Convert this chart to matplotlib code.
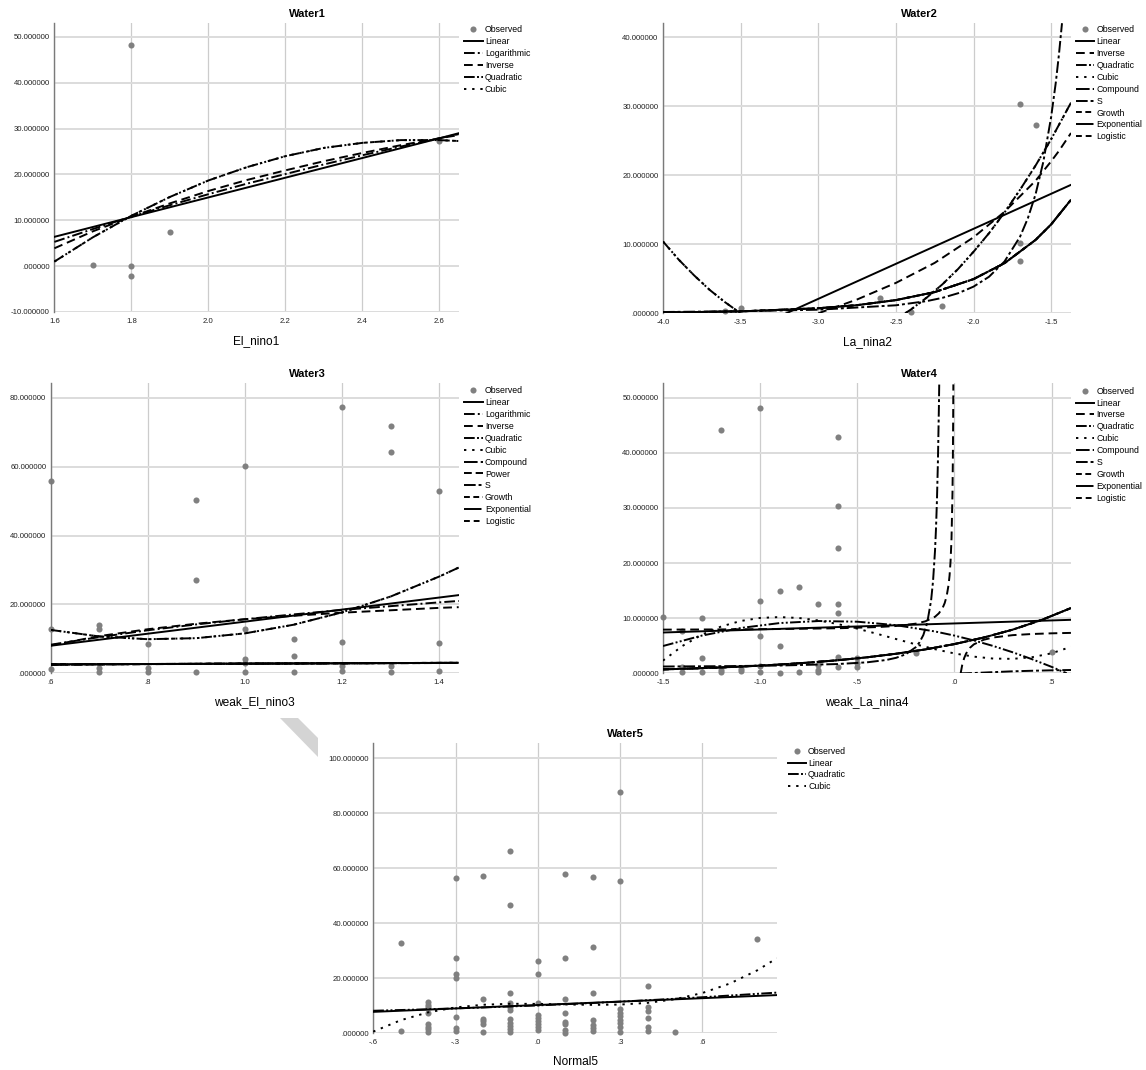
import numpy as np
import matplotlib
matplotlib.use('Agg')
import matplotlib.pyplot as plt
from matplotlib.lines import Line2D
from matplotlib.patches import Polygon

plt.rcParams['font.family'] = ['Liberation Sans', 'DejaVu Sans']

nan = np.nan

# ---- Water1 by El_nino1 ----
w1_obs_x = [1.7, 1.8, 1.8, 1.8, 1.9, 2.6]
w1_obs_y = [0.3, 48.2, 0.0, -2.1, 7.4, 27.4]
w1_fit_x = [1.6, 1.7, 1.8, 1.9, 2.0, 2.1, 2.2, 2.3, 2.4, 2.5, 2.6, 2.65]
w1_linear = [6.4, 8.55, 10.7, 12.85, 15.0, 17.15, 19.3, 21.45, 23.6, 25.75, 27.9, 29.0]
w1_log = [5.3, 8.1, 10.8, 13.3, 15.7, 18.0, 20.1, 22.2, 24.2, 26.1, 27.9, 28.8]
w1_inverse = [3.9, 7.6, 10.8, 13.7, 16.4, 18.8, 20.9, 22.9, 24.7, 26.4, 27.9, 28.6]
w1_quadratic = [1.0, 6.3, 11.0, 15.1, 18.7, 21.6, 24.0, 25.8, 26.9, 27.5, 27.5, 27.3]
w1_cubic = [1.0, 6.3, 11.0, 15.1, 18.7, 21.6, 24.0, 25.8, 26.9, 27.5, 27.5, 27.3]

# ---- Water2 by La_nina2 ----
w2_obs_x = [-3.6, -3.5, -2.6, -2.4, -2.2, -1.7, -1.7, -1.7, -1.6]
w2_obs_y = [0.3, 0.7, 2.2, 0.2, 1.0, 30.3, 10.2, 7.5, 27.3]
w2_linear_x = [-3.206, -1.372]
w2_linear = [0.0, 18.6]
w2_inverse_x = [-3.0, -2.75, -2.5, -2.25, -2.0, -1.8, -1.6, -1.5, -1.45, -1.372]
w2_inverse = [0.0, 2.0, 4.4, 7.3, 11.0, 14.7, 19.2, 22.0, 23.5, 26.1]
w2_quad_x = [-4.0, -3.9, -3.8, -3.7, -3.6, -3.5, nan, -2.44, -2.4, -2.3, -2.2,
             -2.1, -2.0, -1.9, -1.8, -1.7, -1.6, -1.5, -1.372]
w2_quadratic = [10.4, 7.8, 5.5, 3.4, 1.6, 0.0, nan, 0.0, 0.6, 2.3, 4.2,
                6.4, 8.9, 11.6, 14.6, 17.9, 21.4, 25.2, 30.5]
w2_cubic = [10.4, 7.8, 5.5, 3.4, 1.6, 0.0, nan, 0.0, 0.6, 2.3, 4.2,
            6.4, 8.9, 11.6, 14.6, 17.9, 21.4, 25.2, 30.5]
w2_exp_x = [-4.0, -3.5, -3.0, -2.75, -2.5, -2.25, -2.0, -1.8, -1.6, -1.5, -1.372]
w2_exp = [0.11, 0.28, 0.73, 1.18, 1.91, 3.07, 4.95, 7.26, 10.63, 12.87, 16.44]
w2_s_x = [-4.0, -3.5, -3.0, -2.5, -2.3, -2.2, -2.1, -2.0, -1.9, -1.8, -1.7,
          -1.65, -1.6, -1.55, -1.5, -1.47, -1.45, -1.43]
w2_s = [0.19, 0.30, 0.52, 1.16, 1.77, 2.24, 2.90, 3.86, 5.29, 7.51, 11.10,
        13.75, 17.25, 21.96, 28.41, 33.4, 37.4, 42.0]

# ---- Water3 by weak_El_nino3 ----
w3_obs_x = [0.6, 0.6, 0.6, 0.7, 0.7, 0.7, 0.7, 0.8, 0.8, 0.8, 0.9, 0.9, 0.9,
            1.0, 1.0, 1.0, 1.0, 1.0, 1.1, 1.1, 1.1, 1.2, 1.2, 1.2, 1.2,
            1.3, 1.3, 1.3, 1.3, 1.4, 1.4, 1.4]
w3_obs_y = [55.9, 13.0, 1.2, 14.0, 12.8, 1.5, 0.4, 8.5, 1.4, 0.5, 50.4, 27.0, 0.3,
            60.3, 12.8, 4.1, 3.0, 0.3, 9.9, 5.0, 0.5, 77.2, 9.2, 2.0, 0.7,
            71.9, 64.2, 2.1, 0.3, 53.0, 8.7, 0.6]
w3_fit_x = [0.6, 0.7, 0.8, 0.9, 1.0, 1.1, 1.2, 1.3, 1.4, 1.44]
w3_linear_x = [0.6, 1.44]
w3_linear = [8.0, 22.7]
w3_log = [8.3, 10.5, 12.5, 14.2, 15.7, 17.1, 18.4, 19.5, 20.6, 21.0]
w3_inverse = [8.1, 10.8, 12.8, 14.4, 15.7, 16.7, 17.6, 18.3, 19.0, 19.2]
w3_quadratic = [12.6, 10.7, 9.9, 10.2, 11.6, 14.1, 17.7, 22.3, 28.1, 30.7]
w3_cubic = [12.6, 10.7, 9.9, 10.2, 11.6, 14.1, 17.7, 22.3, 28.1, 30.7]
w3_exp = [2.6, 2.65, 2.7, 2.75, 2.81, 2.86, 2.92, 2.97, 3.03, 3.05]
w3_power = [2.5, 2.58, 2.65, 2.72, 2.78, 2.84, 2.89, 2.93, 2.98, 3.0]
w3_s = [2.45, 2.57, 2.67, 2.75, 2.82, 2.87, 2.91, 2.95, 2.99, 3.0]

# ---- Water4 by weak_La_nina4 ----
w4_obs_x = [-1.5, -1.4, -1.4, -1.4, -1.3, -1.3, -1.3, -1.2, -1.2, -1.2, -1.1, -1.1,
            -1.0, -1.0, -1.0, -1.0, -1.0, -0.9, -0.9, -0.9, -0.8, -0.8,
            -0.7, -0.7, -0.7, -0.7, -0.6, -0.6, -0.6, -0.6, -0.6, -0.6, -0.6,
            -0.5, -0.5, -0.5, -0.2, 0.5]
w4_obs_y = [10.2, 7.6, 1.1, 0.3, 10.0, 2.7, 0.2, 44.2, 0.6, 0.2, 0.7, 0.4,
            48.1, 13.1, 6.7, 1.3, 0.2, 15.0, 5.0, 0.1, 15.6, 0.3,
            12.5, 1.5, 0.6, 0.2, 42.8, 30.4, 22.7, 12.5, 10.9, 2.9, 1.1,
            2.7, 1.8, 1.1, 3.6, 3.9]
w4_linear_x = [-1.5, 0.6]
w4_linear = [7.4, 9.7]
w4_inverse_x = [-1.5, -1.2, -0.9, -0.6, -0.4, -0.3, -0.2, -0.15, -0.1, -0.08, -0.06,
                -0.05, -0.04, -0.03, -0.025, -0.02, -0.015, -0.01, -0.008, -0.0065,
                -0.0056, nan, 0.032, 0.04, 0.05, 0.06, 0.08, 0.1, 0.15, 0.2, 0.3,
                0.4, 0.5, 0.6]
w4_inverse = [7.92, 7.96, 8.03, 8.17, 8.38, 8.58, 9.0, 9.42, 10.25, 10.88, 11.92,
              12.75, 14.0, 16.08, 17.75, 20.25, 24.42, 32.75, 39.0, 46.2,
              52.4, nan, 0.0, 1.5, 2.75, 3.58, 4.63, 5.25, 6.08, 6.5, 6.92,
              7.13, 7.25, 7.33]
w4_quad_x = [-1.5, -1.3, -1.1, -0.9, -0.7, -0.5, -0.3, -0.1, 0.0, 0.1, 0.2, 0.3,
             0.4, 0.5, 0.578]
w4_quadratic = [4.95, 6.84, 8.22, 9.11, 9.48, 9.36, 8.73, 7.59, 6.84, 5.96, 4.95, 3.81,
                2.55, 1.17, 0.0]
w4_cubic_x = [-1.5, -1.4, -1.3, -1.2, -1.1, -1.0, -0.9, -0.8, -0.7, -0.6, -0.5,
              -0.4, -0.3, -0.2, -0.1, 0.0, 0.1, 0.2, 0.3, 0.4, 0.5, 0.6]
w4_cubic = [2.30, 4.96, 7.01, 8.50, 9.49, 10.04, 10.20, 10.03, 9.59, 8.93, 8.10,
            7.18, 6.21, 5.26, 4.37, 3.60, 3.02, 2.67, 2.62, 2.92, 3.63, 4.80]
w4_exp_x = [-1.5, -1.35, -1.2, -1.05, -0.9, -0.75, -0.6, -0.45, -0.3, -0.15,
            0.0, 0.15, 0.3, 0.45, 0.6]
w4_exp = [0.71, 0.87, 1.06, 1.30, 1.59, 1.94, 2.37, 2.90, 3.55, 4.33,
          5.30, 6.48, 7.92, 9.69, 11.84]
w4_s_x = [-1.5, -1.2, -0.9, -0.6, -0.45, -0.35, -0.3, -0.25, -0.2, -0.18, -0.16,
          -0.14, -0.12, -0.11, -0.1, -0.095, -0.09, -0.085, -0.08, -0.0783, nan,
          0.03, 0.05, 0.1, 0.15, 0.2, 0.3, 0.4, 0.5, 0.6]
w4_s = [1.23, 1.29, 1.41, 1.68, 1.99, 2.42, 2.81, 3.46, 4.71, 5.60, 6.94,
        9.16, 13.24, 16.75, 22.20, 26.13, 31.33, 38.37, 48.18, 52.4, nan,
        0.0, 0.0, 0.05, 0.13, 0.21, 0.36, 0.46, 0.54, 0.60]

# ---- Water5 by Normal5 ----
w5_obs_x = ([-0.5] * 2 + [-0.4] * 8 + [-0.3] * 7 + [-0.2] * 6 + [-0.1] * 11
            + [0.0] * 9 + [0.1] * 8 + [0.2] * 7 + [0.3] * 9 + [0.4] * 6 + [0.5, 0.8])
w5_obs_y = [32.7, 1.0,
            11.5, 10.4, 9.5, 7.5, 3.4, 2.4, 1.5, 0.6,
            56.4, 27.3, 21.4, 20.2, 6.1, 2.0, 0.7,
            57.2, 12.4, 5.2, 4.3, 3.4, 0.6,
            66.3, 46.7, 14.5, 10.9, 9.7, 8.5, 5.1, 3.6, 2.7, 1.5, 0.5,
            26.3, 21.5, 10.9, 6.5, 5.5, 4.5, 3.4, 2.2, 1.1,
            57.8, 27.3, 12.4, 7.5, 4.1, 3.4, 1.2, 0.2,
            56.7, 31.5, 14.8, 4.8, 3.0, 2.1, 1.0,
            87.9, 55.5, 9.0, 7.5, 6.2, 4.8, 3.6, 2.4, 0.6,
            17.3, 9.5, 8.2, 5.5, 2.2, 0.7,
            0.5, 34.3]
w5_linear_x = [-0.6, 0.871]
w5_linear = [7.8, 13.9]
w5_quad_x = [-0.6, -0.4, -0.2, 0.0, 0.2, 0.4, 0.6, 0.871]
w5_quadratic = [8.2, 8.74, 9.39, 10.15, 11.03, 12.02, 13.12, 14.8]
w5_cubic_x = [-0.6, -0.5, -0.4, -0.3, -0.2, -0.1, 0.0, 0.1, 0.2, 0.3, 0.4, 0.5,
              0.6, 0.7, 0.8, 0.871]
w5_cubic = [0.61, 4.75, 7.61, 9.42, 10.38, 10.74, 10.70, 10.49, 10.34, 10.45, 11.07,
            12.40, 14.67, 18.11, 22.92, 27.3]

# ---- drawing ----
W, H = 1146, 1070
fig = plt.figure(figsize=(W / 100, H / 100), dpi=100)

GRAY = '#808080'
LINE_STYLES = {
    'Linear': '-',
    'Logarithmic': (0, (5.5, 1.6, 1, 1.6)),
    'Inverse': (0, (4.5, 2.5)),
    'Quadratic': (0, (5.5, 1.2, 1, 1.2, 1, 1.2)),
    'Cubic': (0, (1.2, 3)),
    'Compound': (0, (7, 1.6, 1.2, 1.6)),
    'Power': (0, (4, 2)),
    'S': (0, (6, 1.5, 1.5, 1.5)),
    'Growth': (0, (3, 1.8, 3, 1.8, 1, 1.8)),
    'Exponential': (0, (9, 1.6, 1, 1.6)),
    'Logistic': (0, (3, 2)),
}
LW = 1.4


def spss_num(v, nd):
    s = f"{np.round(v, nd) + 0.0:.{nd}f}"
    if s.startswith('0.'):
        s = s[1:]
    elif s.startswith('-0.'):
        s = '-' + s[2:]
    return s


def px_axes(left, top, right, bottom):
    return fig.add_axes([left / W, 1 - bottom / H, (right - left) / W, (bottom - top) / H])


def panel(box, xlim, ylim, xticks, yticks, xdec, title, title_xy, xlabel,
          obs_x, obs_y, fits, legend_xy):
    ax = px_axes(*box)
    ax.set_xlim(*xlim)
    ax.set_ylim(*ylim)
    for side in ('top', 'right', 'bottom'):
        ax.spines[side].set_visible(False)
    ax.spines['left'].set_color('#7a7a7a')
    ax.spines['left'].set_linewidth(1.0)
    ax.set_axisbelow(True)
    ax.grid(axis='y', color='#dcdcdc', linewidth=1.4)
    ax.grid(axis='x', color='#cccccc', linewidth=0.9)
    ax.set_xticks(xticks)
    ax.set_xticklabels([spss_num(v, xdec) for v in xticks])
    ax.set_yticks(yticks)
    ax.set_yticklabels([spss_num(v, 6) for v in yticks])
    ax.tick_params(axis='both', length=0, labelsize=5.6, colors='#222222')
    ax.tick_params(axis='y', pad=3.2)
    ax.tick_params(axis='x', pad=4.0)

    ax.plot(obs_x, obs_y, 'o', color=GRAY, markersize=4.4, markeredgewidth=0,
            clip_on=False, zorder=2)
    handles = [Line2D([], [], marker='o', color=GRAY, linestyle='none',
                      markersize=4.4, markeredgewidth=0)]
    labels = ['Observed']
    for name, xs, ys in fits:
        ax.plot(xs, ys, color='black', linewidth=LW, linestyle=LINE_STYLES[name],
                zorder=3)
        handles.append(Line2D([], [], color='black', linewidth=LW,
                              linestyle=LINE_STYLES[name]))
        labels.append(name)

    fig.text(title_xy[0] / W, 1 - title_xy[1] / H, title, ha='center', va='center',
             fontsize=8, fontweight='bold')
    cx = (box[0] + box[2]) / 2
    fig.text(cx / W, 1 - (box[3] + 29) / H, xlabel, ha='center', va='center',
             fontsize=8.6)
    ax.legend(handles, labels, loc='upper left',
              bbox_to_anchor=(legend_xy[0] / W, 1 - legend_xy[1] / H),
              bbox_transform=fig.transFigure, frameon=False, borderpad=0,
              borderaxespad=0, handlelength=2.1, handletextpad=0.25,
              labelspacing=0.33, fontsize=6.3)
    return ax


panel((54.4, 23, 458.7, 312), (1.6, 2.65), (-10, 53.05),
      [1.6, 1.8, 2.0, 2.2, 2.4, 2.6], [-10, 0, 10, 20, 30, 40, 50], 1,
      'Water1', (307, 14), 'El_nino1', w1_obs_x, w1_obs_y,
      [('Linear', w1_fit_x, w1_linear),
       ('Logarithmic', w1_fit_x, w1_log),
       ('Inverse', w1_fit_x, w1_inverse),
       ('Quadratic', w1_fit_x, w1_quadratic),
       ('Cubic', w1_fit_x, w1_cubic)],
      (464.3, 25.3))

w2_fits = [('Linear', w2_linear_x, w2_linear),
           ('Inverse', w2_inverse_x, w2_inverse),
           ('Quadratic', w2_quad_x, w2_quadratic),
           ('Cubic', w2_quad_x, w2_cubic),
           ('Compound', w2_exp_x, w2_exp),
           ('S', w2_s_x, w2_s),
           ('Growth', w2_exp_x, w2_exp),
           ('Exponential', w2_exp_x, w2_exp),
           ('Logistic', w2_exp_x, w2_exp)]
panel((663, 23, 1071, 313.3), (-4.0, -1.372), (0, 42.03),
      [-4.0, -3.5, -3.0, -2.5, -2.0, -1.5], [0, 10, 20, 30, 40], 1,
      'Water2', (919, 14), 'La_nina2', w2_obs_x, w2_obs_y, w2_fits,
      (1075.7, 25.3))

panel((50.7, 383.3, 458.7, 673.3), (0.6, 1.44), (0, 84.2),
      [0.6, 0.8, 1.0, 1.2, 1.4], [0, 20, 40, 60, 80], 1,
      'Water3', (307, 374), 'weak_El_nino3', w3_obs_x, w3_obs_y,
      [('Linear', w3_linear_x, w3_linear),
       ('Logarithmic', w3_fit_x, w3_log),
       ('Inverse', w3_fit_x, w3_inverse),
       ('Quadratic', w3_fit_x, w3_quadratic),
       ('Cubic', w3_fit_x, w3_cubic),
       ('Compound', w3_fit_x, w3_exp),
       ('Power', w3_fit_x, w3_power),
       ('S', w3_fit_x, w3_s),
       ('Growth', w3_fit_x, w3_exp),
       ('Exponential', w3_fit_x, w3_exp),
       ('Logistic', w3_fit_x, w3_exp)],
      (464.3, 386.3))

w4_fits = [('Linear', w4_linear_x, w4_linear),
           ('Inverse', w4_inverse_x, w4_inverse),
           ('Quadratic', w4_quad_x, w4_quadratic),
           ('Cubic', w4_cubic_x, w4_cubic),
           ('Compound', w4_exp_x, w4_exp),
           ('S', w4_s_x, w4_s),
           ('Growth', w4_exp_x, w4_exp),
           ('Exponential', w4_exp_x, w4_exp),
           ('Logistic', w4_exp_x, w4_exp)]
panel((663, 383.3, 1071, 673.3), (-1.5, 0.6), (0, 52.6),
      [-1.5, -1.0, -0.5, 0.0, 0.5], [0, 10, 20, 30, 40, 50], 1,
      'Water4', (919, 374), 'weak_La_nina4', w4_obs_x, w4_obs_y, w4_fits,
      (1075.7, 386.7))

panel((373.2, 743.3, 776.8, 1033.3), (-0.6, 0.871), (0, 105.5),
      [-0.6, -0.3, 0.0, 0.3, 0.6], [0, 20, 40, 60, 80, 100], 1,
      'Water5', (625, 734), 'Normal5', w5_obs_x, w5_obs_y,
      [('Linear', w5_linear_x, w5_linear),
       ('Quadratic', w5_quad_x, w5_quadratic),
       ('Cubic', w5_cubic_x, w5_cubic)],
      (787.5, 746.7))

# faint diagonal band left of the last chart frame
band = np.array([(280, 718), (298, 718), (318, 738), (318, 757)], dtype=float)
band[:, 0] /= W
band[:, 1] = 1 - band[:, 1] / H
fig.add_artist(Polygon(band, closed=True, transform=fig.transFigure,
                       facecolor='#d4d4d4', edgecolor='none', zorder=0))

fig.savefig('out.png', dpi=100)
